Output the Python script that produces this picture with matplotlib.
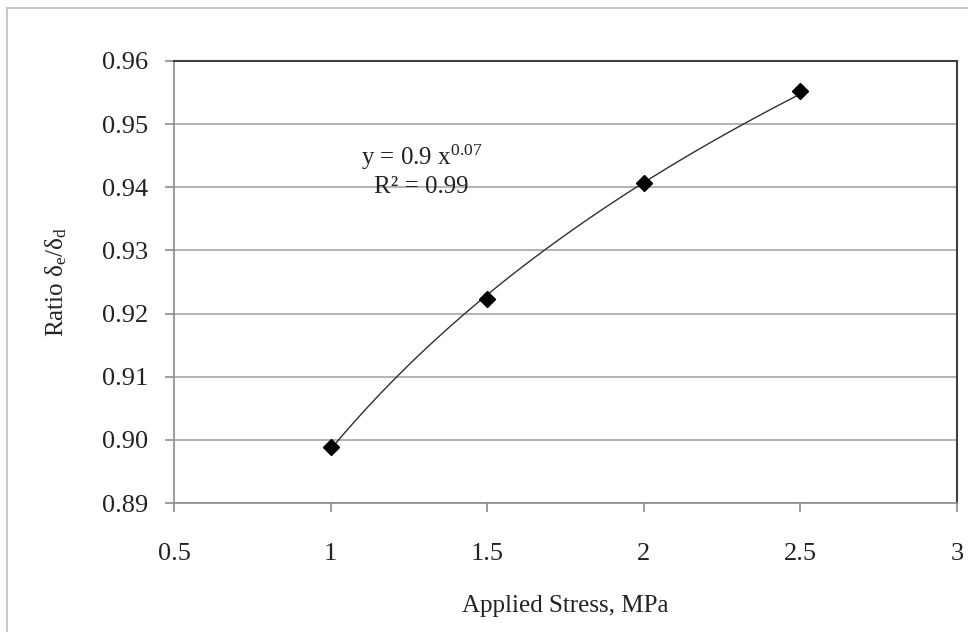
import numpy as np
import matplotlib
matplotlib.use('Agg')
from matplotlib import pyplot as plt
from matplotlib.lines import Line2D

plt.rcParams['font.family'] = ['Liberation Serif', 'DejaVu Serif']
plt.rcParams['mathtext.fontset'] = 'custom'
plt.rcParams['mathtext.rm'] = 'Liberation Serif'
plt.rcParams['mathtext.it'] = 'Liberation Serif'

# 数据
stress = [1.0, 1.5, 2.0, 2.5]
ratio = [0.8989, 0.9223, 0.9406, 0.9552]
xticks = [0.5, 1, 1.5, 2, 2.5, 3]
yticks = [0.89, 0.90, 0.91, 0.92, 0.93, 0.94, 0.95, 0.96]

# 幂函数拟合 y = a x^b
b, loga = np.polyfit(np.log(stress), np.log(ratio), 1)
xf = np.linspace(min(stress), max(stress), 100)
yf = np.exp(loga) * xf ** b

fig = plt.figure(figsize=(9.68, 6.32), dpi=100)
ax = fig.add_axes([0.1798, 0.2041, 0.8088, 0.6994])

ax.plot(xf, yf, '-', color='#303030', linewidth=1.0, zorder=3)
ax.plot(stress, ratio, 'D', color='black', markersize=8, zorder=4)

ax.set_xlim(0.5, 3)
ax.set_ylim(0.89, 0.96)
ax.set_xticks(xticks)
ax.set_xticklabels(['0.5', '1', '1.5', '2', '2.5', '3'])
ax.set_yticks(yticks)
ax.set_yticklabels(['%.2f' % v for v in yticks])
ax.grid(axis='y', color='#a6a6a6', linewidth=1.2)
ax.set_axisbelow(True)

for s in ['left', 'bottom']:
    ax.spines[s].set_color('#8c8c8c')
    ax.spines[s].set_linewidth(1.2)
for s in ['top', 'right']:
    ax.spines[s].set_color('#404040')
    ax.spines[s].set_linewidth(1.5)

ax.tick_params(axis='both', direction='out', length=6.5, width=1.2,
               labelsize=19, colors='#8c8c8c', labelcolor='#222222')
ax.tick_params(axis='x', pad=22)
ax.tick_params(axis='y', pad=12)

ax.set_xlabel('Applied Stress, MPa', fontsize=18, color='#222222', va='center')
ax.xaxis.set_label_coords(0.5, -0.232)
ax.set_ylabel(r'Ratio δ$_\mathrm{e}$/δ$_\mathrm{d}$', fontsize=18, color='#222222', va='center')
ax.yaxis.set_label_coords(-0.150, 0.5)

ax.text(1.29, 0.9448, r'y = 0.9 x$^{0.07}$', fontsize=18, ha='center', va='center', color='#222222')
ax.text(1.29, 0.9400, 'R² = 0.99', fontsize=18, ha='center', va='center', color='#222222')

# 外框
fig.add_artist(Line2D([7/968, 1], [1 - 8/632, 1 - 8/632], color='#c0c0c0', linewidth=1.2))
fig.add_artist(Line2D([7/968, 7/968], [0, 1 - 8/632], color='#c0c0c0', linewidth=1.2))

fig.savefig('out.png', dpi=100)
